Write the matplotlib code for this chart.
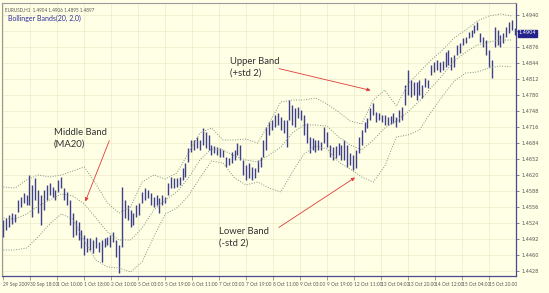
"""EURUSD H1 with Bollinger Bands (20, 2) - annotated chart."""
import numpy as np
import matplotlib

matplotlib.use("Agg")
import matplotlib.pyplot as plt
from matplotlib import font_manager

plt.rcParams["font.family"] = ["Lato", "DejaVu Sans"]
names = {f.name for f in font_manager.fontManager.ttflist}
SMALL = "Liberation Sans Narrow" if "Liberation Sans Narrow" in names else "Lato"

# hourly bars: high / low
highs = [
    1.4530, 1.4534, 1.4540, 1.4544, 1.4542, 1.4570, 1.4576, 1.4584, 1.4580, 1.4620,
    1.4600, 1.4614, 1.4590, 1.4580, 1.4590, 1.4600, 1.4604, 1.4596, 1.4590, 1.4610,
    1.4616, 1.4594, 1.4586, 1.4570, 1.4544, 1.4530, 1.4526, 1.4510, 1.4500, 1.4494,
    1.4494, 1.4490, 1.4496, 1.4486, 1.4490, 1.4494, 1.4496, 1.4500, 1.4506, 1.4490,
    1.4480, 1.4596, 1.4570, 1.4560, 1.4550, 1.4544, 1.4560, 1.4564, 1.4586, 1.4594,
    1.4590, 1.4584, 1.4576, 1.4580, 1.4574, 1.4580, 1.4576, 1.4604, 1.4616, 1.4614,
    1.4614, 1.4616, 1.4634, 1.4644, 1.4674, 1.4690, 1.4690, 1.4696, 1.4690, 1.4714,
    1.4706, 1.4700, 1.4680, 1.4678, 1.4676, 1.4674, 1.4670, 1.4656, 1.4654, 1.4666,
    1.4670, 1.4684, 1.4680, 1.4650, 1.4640, 1.4644, 1.4636, 1.4634, 1.4650, 1.4656,
    1.4690, 1.4716, 1.4726, 1.4730, 1.4740, 1.4744, 1.4736, 1.4730, 1.4730, 1.4770,
    1.4760, 1.4754, 1.4756, 1.4750, 1.4740, 1.4724, 1.4696, 1.4694, 1.4690, 1.4690,
    1.4686, 1.4716, 1.4706, 1.4680, 1.4676, 1.4678, 1.4684, 1.4680, 1.4690, 1.4680,
    1.4664, 1.4660, 1.4670, 1.4696, 1.4710, 1.4726, 1.4734, 1.4754, 1.4764, 1.4746,
    1.4744, 1.4740, 1.4740, 1.4736, 1.4738, 1.4744, 1.4736, 1.4750, 1.4756, 1.4800,
    1.4830, 1.4810, 1.4806, 1.4806, 1.4810, 1.4800, 1.4814, 1.4810, 1.4840, 1.4846,
    1.4850, 1.4846, 1.4848, 1.4866, 1.4870, 1.4856, 1.4860, 1.4880, 1.4884, 1.4894,
    1.4896, 1.4906, 1.4910, 1.4920, 1.4926, 1.4904, 1.4896, 1.4890, 1.4870, 1.4850,
    1.4916, 1.4910, 1.4900, 1.4904, 1.4916, 1.4926, 1.4930, 1.4914,
]
lows = [
    1.4496, 1.4510, 1.4516, 1.4522, 1.4526, 1.4546, 1.4556, 1.4564, 1.4560, 1.4560,
    1.4536, 1.4570, 1.4544, 1.4520, 1.4550, 1.4570, 1.4580, 1.4576, 1.4570, 1.4586,
    1.4594, 1.4570, 1.4560, 1.4520, 1.4496, 1.4500, 1.4490, 1.4474, 1.4460, 1.4466,
    1.4470, 1.4464, 1.4474, 1.4466, 1.4446, 1.4476, 1.4480, 1.4476, 1.4486, 1.4456,
    1.4424, 1.4476, 1.4534, 1.4530, 1.4516, 1.4520, 1.4536, 1.4540, 1.4564, 1.4570,
    1.4574, 1.4560, 1.4556, 1.4560, 1.4544, 1.4560, 1.4564, 1.4580, 1.4594, 1.4594,
    1.4596, 1.4600, 1.4610, 1.4616, 1.4646, 1.4666, 1.4670, 1.4674, 1.4670, 1.4680,
    1.4674, 1.4670, 1.4660, 1.4664, 1.4660, 1.4656, 1.4656, 1.4636, 1.4640, 1.4644,
    1.4650, 1.4660, 1.4650, 1.4620, 1.4610, 1.4614, 1.4610, 1.4614, 1.4626, 1.4636,
    1.4656, 1.4670, 1.4700, 1.4710, 1.4716, 1.4720, 1.4710, 1.4704, 1.4676, 1.4730,
    1.4720, 1.4716, 1.4734, 1.4730, 1.4700, 1.4684, 1.4664, 1.4670, 1.4666, 1.4670,
    1.4670, 1.4684, 1.4676, 1.4656, 1.4650, 1.4654, 1.4660, 1.4650, 1.4650, 1.4636,
    1.4640, 1.4630, 1.4634, 1.4664, 1.4680, 1.4706, 1.4714, 1.4730, 1.4740, 1.4726,
    1.4730, 1.4726, 1.4720, 1.4720, 1.4722, 1.4724, 1.4716, 1.4726, 1.4730, 1.4760,
    1.4780, 1.4776, 1.4780, 1.4770, 1.4780, 1.4774, 1.4796, 1.4794, 1.4820, 1.4826,
    1.4830, 1.4826, 1.4830, 1.4836, 1.4840, 1.4830, 1.4836, 1.4860, 1.4864, 1.4880,
    1.4884, 1.4894, 1.4896, 1.4904, 1.4910, 1.4886, 1.4876, 1.4860, 1.4836, 1.4814,
    1.4876, 1.4880, 1.4876, 1.4884, 1.4896, 1.4904, 1.4910, 1.4900,
]

# Bollinger bands, read every 4 bars
upper_band = [
    1.4596, 1.4594, 1.4610, 1.4620, 1.4616, 1.4620, 1.4628, 1.4636, 1.4602, 1.4564,
    1.4544, 1.4556, 1.4606, 1.4620, 1.4612, 1.4624, 1.4664, 1.4704, 1.4714, 1.4690,
    1.4690, 1.4692, 1.4684, 1.4724, 1.4766, 1.4770, 1.4770, 1.4774, 1.4762, 1.4746,
    1.4728, 1.4722, 1.4770, 1.4790, 1.4758, 1.4802, 1.4826, 1.4850, 1.4870, 1.4894,
    1.4910, 1.4928, 1.4938, 1.4942, 1.4938,
]
middle_band = [
    1.4534, 1.4532, 1.4542, 1.4558, 1.4570, 1.4582, 1.4578, 1.4562, 1.4534, 1.4506,
    1.4490, 1.4490, 1.4514, 1.4550, 1.4570, 1.4586, 1.4614, 1.4650, 1.4672, 1.4670,
    1.4658, 1.4650, 1.4646, 1.4660, 1.4676, 1.4704, 1.4720, 1.4720, 1.4718, 1.4696,
    1.4680, 1.4670, 1.4690, 1.4714, 1.4728, 1.4746, 1.4768, 1.4794, 1.4820, 1.4848,
    1.4866, 1.4880, 1.4886, 1.4890, 1.4890,
]
lower_band = [
    1.4470, 1.4470, 1.4474, 1.4496, 1.4522, 1.4542, 1.4532, 1.4488, 1.4450, 1.4436,
    1.4434, 1.4426, 1.4446, 1.4496, 1.4542, 1.4554, 1.4578, 1.4614, 1.4648, 1.4644,
    1.4614, 1.4600, 1.4606, 1.4594, 1.4586, 1.4626, 1.4662, 1.4678, 1.4672, 1.4646,
    1.4632, 1.4616, 1.4606, 1.4638, 1.4696, 1.4700, 1.4710, 1.4746, 1.4778, 1.4808,
    1.4824, 1.4826, 1.4834, 1.4838, 1.4836,
]
band_step = 4

time_labels = [
    "29 Sep 2009", "30 Sep 18:00", "1 Oct 10:00", "1 Oct 18:00", "2 Oct 10:00",
    "5 Oct 03:00", "5 Oct 19:00", "6 Oct 11:00", "7 Oct 03:00", "7 Oct 19:00",
    "8 Oct 11:00", "9 Oct 03:00", "9 Oct 19:00", "12 Oct 11:00", "13 Oct 04:00",
    "13 Oct 20:00", "14 Oct 12:00", "15 Oct 04:00", "15 Oct 20:00",
]
bars_per_label = 9.35
price_ticks = np.linspace(1.4428, 1.4940, 17)
last_price = 1.4904

BG = "#FFFFE6"
BAR = "#3F3F8C"
BAND = "#7E927E"
AXIS = "#4A4A8E"

fig = plt.figure(figsize=(5.49, 2.93), dpi=100, facecolor=BG)
ax = fig.add_axes([2 / 549, 17 / 293, 514 / 549, 273 / 293], facecolor=BG)

idx = np.arange(len(highs))
ax.vlines(idx, lows, highs, color=BAR, lw=1.0)

bidx = np.arange(len(upper_band)) * band_step
for band in (upper_band, middle_band, lower_band):
    ax.plot(bidx, band, color=BAND, lw=0.7, ls=(0, (1, 1.6)))

ax.set_xlim(-0.5, 177.4)
ax.set_ylim(1.4418, 1.4964)

xt = np.arange(len(time_labels)) * bars_per_label - 0.3
ax.set_xticks(xt)
ax.set_xticklabels(time_labels, ha="left", fontsize=3.4, color="#555555", family=SMALL)
ax.tick_params(axis="x", direction="out", length=3, width=0.5, color="#777777", pad=1.5)

ax.yaxis.tick_right()
ax.set_yticks(price_ticks)
# the highlighted last price hides the tick label under it
ylabels = ["" if abs(p - last_price) < 0.0012 else f"{p:.4f}" for p in price_ticks]
ax.set_yticklabels(ylabels, fontsize=3.6, color="#555555", family="DejaVu Sans")
ax.tick_params(axis="y", direction="out", length=2, width=0.5, color=AXIS, pad=2)

ax.grid(True, color="#EBEBC8", lw=0.5)
ax.set_axisbelow(True)
for side in ("right", "bottom"):
    ax.spines[side].set_color(AXIS)
    ax.spines[side].set_linewidth(0.9)
for side in ("left", "top"):
    ax.spines[side].set_color("#9A9A9A")
    ax.spines[side].set_linewidth(0.8)

# current price box
ax.annotate(f"{last_price:.4f}", xy=(1.0, last_price), xycoords=("axes fraction", "data"),
            xytext=(2, 0), textcoords="offset points", fontsize=3.6, color="white",
            va="center", ha="left", family="DejaVu Sans",
            bbox=dict(boxstyle="square,pad=0.2", fc="#23238A", ec="#23238A"))

# header
ax.text(0.006, 0.985, "EURUSD,H1  1.4904 1.4906 1.4895 1.4897", transform=ax.transAxes,
        fontsize=3.3, color="#555555", va="top", ha="left")
ax.text(0.012, 0.955, "Bollinger Bands(20, 2,0)", transform=ax.transAxes,
        fontsize=5, color="#2E2E9E", va="top", ha="left")

# annotations
ARROW = dict(arrowstyle="-|>", color="#E03A3A", lw=0.6, mutation_scale=5)
TXT = dict(fontsize=6.8, color="#333333", ha="left", va="center", linespacing=1.35)
ax.annotate("", xy=(28, 1.4562), xytext=(37, 1.4694), arrowprops=ARROW)
ax.text(17.5, 1.4693, "Middle Band\n(MA20)", **TXT)
ax.annotate("", xy=(128, 1.4788), xytext=(94.5, 1.4834), arrowprops=ARROW)
ax.text(78.5, 1.4835, "Upper Band\n(+std 2)", **TXT)
ax.annotate("", xy=(122.5, 1.4618), xytext=(94.5, 1.4512), arrowprops=ARROW)
ax.text(74.5, 1.4495, "Lower Band\n(-std 2)", **TXT)

fig.savefig("out.png", dpi=100, facecolor=BG)
